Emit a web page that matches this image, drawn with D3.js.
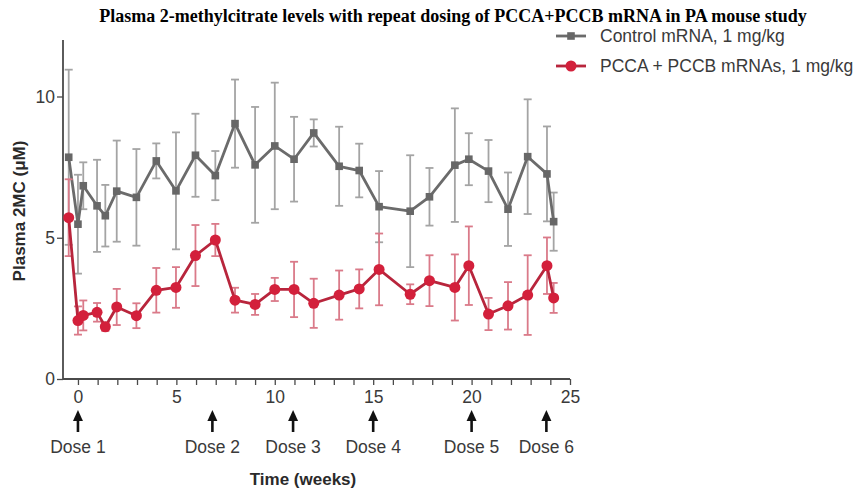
<!DOCTYPE html>
<html>
<head>
<meta charset="utf-8">
<script src="https://cdn.jsdelivr.net/npm/d3@7/dist/d3.min.js"></script>
<style>
  html, body { margin: 0; padding: 0; background: #fff; }
  svg { display: block; }
</style>
</head>
<body>
<svg id="chart" width="855" height="492"></svg>
<script>
// ---- Data ----
const weeks = [-0.47, 0, 0.27, 0.97, 1.39, 1.97, 2.97, 3.98, 4.98, 5.97, 6.98, 7.98, 9.0, 10.0, 10.98, 11.98, 13.27, 14.29, 15.3, 16.88, 17.86, 19.15, 19.86, 20.86, 21.85, 22.85, 23.83, 24.17];
const controlValues = [7.85, 5.48, 6.84, 6.13, 5.78, 6.65, 6.43, 7.72, 6.66, 7.92, 7.2, 9.04, 7.58, 8.25, 7.78, 8.71, 7.53, 7.38, 6.1, 5.94, 6.45, 7.57, 7.78, 7.36, 6.01, 7.87, 7.26, 5.57];
const controlErrors = [3.1, 1.75, 0.83, 1.63, 1.09, 1.79, 1.71, 0.62, 2.07, 1.47, 0.87, 1.56, 2.05, 2.24, 1.5, 0.48, 1.4, 0.95, 1.26, 1.98, 1.02, 2.01, 0.92, 1.1, 1.3, 2.03, 1.68, 1.03];
const treatedValues = [5.71, 2.07, 2.25, 2.36, 1.85, 2.55, 2.24, 3.14, 3.24, 4.37, 4.92, 2.79, 2.64, 3.17, 3.17, 2.68, 2.97, 3.19, 3.88, 3.0, 3.48, 3.24, 4.01, 2.3, 2.59, 2.97, 4.01, 2.87];
const treatedErrors = [1.36, 0.5, 0.53, 0.33, 0.15, 0.64, 0.44, 0.79, 0.72, 1.08, 0.57, 0.44, 0.37, 0.41, 0.98, 0.87, 0.87, 0.69, 1.27, 0.35, 0.9, 1.17, 1.39, 0.57, 0.84, 1.41, 1.0, 0.53];
const seriesNames = ["Control mRNA, 1 mg/kg", "PCCA + PCCB mRNAs, 1 mg/kg"];
const doseWeeks = [0, 6.83, 10.93, 15.0, 20.0, 23.8];
const doseLabels = ["Dose 1", "Dose 2", "Dose 3", "Dose 4", "Dose 5", "Dose 6"];
const xTickValues = [0, 5, 10, 15, 20, 25];
const yTickValues = [0, 5, 10];
const titleText = "Plasma 2-methylcitrate levels with repeat dosing of PCCA+PCCB mRNA in PA mouse study";
const xTitle = "Time (weeks)";
const yTitle = "Plasma 2MC (\u03BCM)";

// ---- Layout ----
const svg = d3.select("#chart");
const FONT = "Arial, 'Liberation Sans', Helvetica, sans-serif";
const x = d3.scaleLinear().domain([-0.76, 25]).range([63, 570]);
const y = d3.scaleLinear().domain([0, 12]).range([379, 40]);

const colors = {
  control: { line: "#6b6b6b", marker: "#676767", err: "#a4a4a4" },
  treated: { line: "#b8253c", marker: "#d3203b", err: "#da7a89" }
};

// Title
svg.append("text")
  .attr("x", 453).attr("y", 22)
  .attr("text-anchor", "middle")
  .style("font-family", "'Times New Roman', 'Liberation Serif', serif")
  .style("font-weight", "bold")
  .style("font-size", "18px")
  .attr("fill", "#000")
  .text(titleText);

// Axes
const axisColor = "#4a4a4a";
const xAxisG = svg.append("g").attr("transform", "translate(0,379)")
  .call(d3.axisBottom(x).tickValues(d3.range(0, 26, 1)).tickSize(6).tickFormat(d => xTickValues.includes(d) ? d : ""));
const yAxisG = svg.append("g").attr("transform", "translate(63,0)")
  .call(d3.axisLeft(y).tickValues(yTickValues).tickSize(6));

[xAxisG, yAxisG].forEach(g => {
  g.select(".domain").remove();
  g.selectAll(".tick line").attr("stroke", axisColor).attr("stroke-width", 1.3);
  g.selectAll(".tick text").style("font-family", FONT).style("font-size", "17.5px").attr("fill", "#3a3a3a");
});
svg.append("line").attr("x1", 63).attr("x2", x(25)).attr("y1", 379).attr("y2", 379)
  .attr("stroke", axisColor).attr("stroke-width", 1.8);
svg.append("line").attr("x1", 63).attr("x2", 63).attr("y1", y(12)).attr("y2", 379)
  .attr("stroke", axisColor).attr("stroke-width", 1.8);
xAxisG.selectAll(".tick text").attr("y", 12);
yAxisG.selectAll(".tick text").attr("x", -8);

// Axis titles
svg.append("text")
  .attr("transform", "translate(25,211) rotate(-90)")
  .attr("text-anchor", "middle")
  .style("font-family", FONT).style("font-weight", "bold").style("font-size", "17px")
  .attr("fill", "#2a2a2a")
  .text(yTitle);
svg.append("text")
  .attr("x", 303).attr("y", 485)
  .attr("text-anchor", "middle")
  .style("font-family", FONT).style("font-weight", "bold").style("font-size", "17px")
  .attr("fill", "#2a2a2a")
  .text(xTitle);

// Dose arrows
const doseG = svg.append("g");
doseWeeks.forEach((w, i) => {
  const cx = x(w);
  doseG.append("line").attr("x1", cx).attr("x2", cx).attr("y1", 418).attr("y2", 432)
    .attr("stroke", "#111").attr("stroke-width", 2.6);
  doseG.append("path")
    .attr("d", `M${cx},410 L${cx - 5},421 L${cx + 5},421 Z`)
    .attr("fill", "#111");
  doseG.append("text").attr("x", cx).attr("y", 453)
    .attr("text-anchor", "middle")
    .style("font-family", FONT).style("font-size", "17.5px")
    .attr("fill", "#3a3a3a")
    .text(doseLabels[i]);
});

// Series drawing
function drawSeries(vals, errs, col, shape) {
  const g = svg.append("g");
  const data = weeks.map((w, i) => ({ w, v: vals[i], e: errs[i] }));
  const cap = 4;
  const eg = g.append("g").attr("stroke", col.err).attr("stroke-width", 1.8);
  data.forEach(d => {
    const cx = x(d.w), yt = y(d.v + d.e), yb = y(d.v - d.e);
    eg.append("line").attr("x1", cx).attr("x2", cx).attr("y1", yt).attr("y2", yb);
    eg.append("line").attr("x1", cx - cap).attr("x2", cx + cap).attr("y1", yt).attr("y2", yt);
    eg.append("line").attr("x1", cx - cap).attr("x2", cx + cap).attr("y1", yb).attr("y2", yb);
  });
  g.append("path").datum(data)
    .attr("fill", "none").attr("stroke", col.line).attr("stroke-width", 2.8)
    .attr("stroke-linejoin", "round")
    .attr("d", d3.line().x(d => x(d.w)).y(d => y(d.v)));
  if (shape === "square") {
    g.selectAll("rect").data(data).join("rect")
      .attr("x", d => x(d.w) - 3.8).attr("y", d => y(d.v) - 3.8)
      .attr("width", 7.6).attr("height", 7.6).attr("fill", col.marker);
  } else {
    g.selectAll("circle").data(data).join("circle")
      .attr("cx", d => x(d.w)).attr("cy", d => y(d.v)).attr("r", 5.5)
      .attr("fill", col.marker);
  }
}
drawSeries(controlValues, controlErrors, colors.control, "square");
drawSeries(treatedValues, treatedErrors, colors.treated, "circle");

// Legend
const legend = svg.append("g");
[[colors.control, "square", 36], [colors.treated, "circle", 66]].forEach(([col, shape, ly], i) => {
  legend.append("line").attr("x1", 556).attr("x2", 586).attr("y1", ly).attr("y2", ly)
    .attr("stroke", col.line).attr("stroke-width", 2.8);
  if (shape === "square") {
    legend.append("rect").attr("x", 571 - 3.8).attr("y", ly - 3.8).attr("width", 7.6).attr("height", 7.6).attr("fill", col.marker);
  } else {
    legend.append("circle").attr("cx", 571).attr("cy", ly).attr("r", 5.5).attr("fill", col.marker);
  }
  legend.append("text").attr("x", 600).attr("y", ly + 6)
    .style("font-family", FONT).style("font-size", "17.5px")
    .attr("fill", "#3a3a3a")
    .text(seriesNames[i]);
});
</script>
</body>
</html>
